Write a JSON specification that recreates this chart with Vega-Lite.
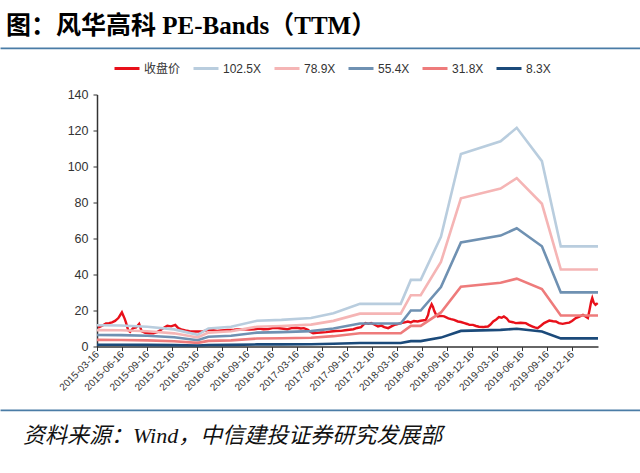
{
  "$schema": "https://vega.github.io/schema/vega-lite/v6.json",
  "padding": {"left": 0, "right": 0, "top": 13, "bottom": 0},
  "background": "white",
  "spacing": 4.5,
  "resolve": {"scale": {"color": "independent"}, "legend": {"color": "independent"}},
  "config": {
    "view": {"stroke": null},
    "font": "Liberation Sans, Noto Sans CJK SC"
  },
  "datasets": {
    "price": [
      {"date": "2015-03-20", "value": 10.5}, {"date": "2015-04-04", "value": 11.5}, {"date": "2015-04-18", "value": 12.8},
      {"date": "2015-04-29", "value": 13.0}, {"date": "2015-05-10", "value": 13.4}, {"date": "2015-05-21", "value": 14.2},
      {"date": "2015-06-02", "value": 15.8}, {"date": "2015-06-09", "value": 17.5}, {"date": "2015-06-15", "value": 19.0},
      {"date": "2015-06-20", "value": 17.2}, {"date": "2015-06-25", "value": 15.5}, {"date": "2015-06-30", "value": 13.3},
      {"date": "2015-07-08", "value": 9.0}, {"date": "2015-07-15", "value": 8.2}, {"date": "2015-07-26", "value": 10.2},
      {"date": "2015-08-06", "value": 10.6}, {"date": "2015-08-17", "value": 12.6}, {"date": "2015-08-26", "value": 8.5},
      {"date": "2015-09-08", "value": 7.6}, {"date": "2015-09-23", "value": 7.4}, {"date": "2015-10-08", "value": 7.4},
      {"date": "2015-10-22", "value": 8.0}, {"date": "2015-11-05", "value": 9.3}, {"date": "2015-11-17", "value": 10.5},
      {"date": "2015-11-28", "value": 11.5}, {"date": "2015-12-12", "value": 11.2}, {"date": "2015-12-27", "value": 12.0},
      {"date": "2016-01-07", "value": 10.2}, {"date": "2016-01-18", "value": 9.5}, {"date": "2016-02-02", "value": 8.9},
      {"date": "2016-02-17", "value": 8.5}, {"date": "2016-03-10", "value": 8.3}, {"date": "2016-03-31", "value": 8.3},
      {"date": "2016-04-15", "value": 8.8}, {"date": "2016-04-26", "value": 9.3}, {"date": "2016-05-14", "value": 9.0},
      {"date": "2016-05-28", "value": 8.7}, {"date": "2016-06-12", "value": 8.9}, {"date": "2016-07-04", "value": 9.2},
      {"date": "2016-07-29", "value": 9.3}, {"date": "2016-08-17", "value": 9.6}, {"date": "2016-09-04", "value": 9.6},
      {"date": "2016-09-23", "value": 9.4}, {"date": "2016-10-11", "value": 9.6}, {"date": "2016-10-29", "value": 10.0},
      {"date": "2016-11-13", "value": 9.6}, {"date": "2016-12-02", "value": 9.7}, {"date": "2016-12-16", "value": 10.2},
      {"date": "2016-12-30", "value": 10.4}, {"date": "2017-01-18", "value": 10.0}, {"date": "2017-02-09", "value": 9.6},
      {"date": "2017-02-24", "value": 10.2}, {"date": "2017-03-14", "value": 10.4}, {"date": "2017-03-30", "value": 10.0},
      {"date": "2017-04-10", "value": 10.2}, {"date": "2017-04-25", "value": 9.3}, {"date": "2017-05-03", "value": 8.2},
      {"date": "2017-05-14", "value": 7.4}, {"date": "2017-05-28", "value": 7.6}, {"date": "2017-06-11", "value": 7.8},
      {"date": "2017-06-30", "value": 8.0}, {"date": "2017-07-18", "value": 8.3}, {"date": "2017-08-05", "value": 8.6},
      {"date": "2017-08-24", "value": 8.7}, {"date": "2017-09-08", "value": 9.0}, {"date": "2017-09-23", "value": 9.3},
      {"date": "2017-10-08", "value": 9.6}, {"date": "2017-10-22", "value": 10.3}, {"date": "2017-11-05", "value": 10.8},
      {"date": "2017-11-13", "value": 12.0}, {"date": "2017-11-21", "value": 13.0}, {"date": "2017-12-02", "value": 12.6},
      {"date": "2017-12-12", "value": 13.0}, {"date": "2017-12-23", "value": 12.2}, {"date": "2018-01-06", "value": 11.1},
      {"date": "2018-01-18", "value": 11.6}, {"date": "2018-01-29", "value": 10.8}, {"date": "2018-02-12", "value": 10.2},
      {"date": "2018-02-24", "value": 11.2}, {"date": "2018-03-07", "value": 12.0}, {"date": "2018-03-16", "value": 12.3},
      {"date": "2018-03-30", "value": 13.0}, {"date": "2018-04-10", "value": 13.3}, {"date": "2018-04-25", "value": 13.9},
      {"date": "2018-05-06", "value": 13.4}, {"date": "2018-05-17", "value": 14.2}, {"date": "2018-05-31", "value": 13.9},
      {"date": "2018-06-11", "value": 14.3}, {"date": "2018-06-30", "value": 14.8}, {"date": "2018-07-08", "value": 17.5},
      {"date": "2018-07-12", "value": 20.4}, {"date": "2018-07-21", "value": 23.5}, {"date": "2018-07-26", "value": 22.0},
      {"date": "2018-07-30", "value": 20.0}, {"date": "2018-08-05", "value": 18.0}, {"date": "2018-08-12", "value": 16.7},
      {"date": "2018-08-24", "value": 17.0}, {"date": "2018-09-05", "value": 16.7}, {"date": "2018-09-20", "value": 15.6},
      {"date": "2018-09-30", "value": 15.2}, {"date": "2018-10-11", "value": 14.8}, {"date": "2018-10-25", "value": 13.9},
      {"date": "2018-11-05", "value": 13.6}, {"date": "2018-11-18", "value": 13.0}, {"date": "2018-11-28", "value": 12.5},
      {"date": "2018-12-06", "value": 12.0}, {"date": "2018-12-19", "value": 12.0}, {"date": "2018-12-30", "value": 11.4},
      {"date": "2019-01-10", "value": 11.0}, {"date": "2019-01-25", "value": 10.8}, {"date": "2019-02-02", "value": 11.0},
      {"date": "2019-02-12", "value": 11.1}, {"date": "2019-02-21", "value": 12.2}, {"date": "2019-03-03", "value": 13.9},
      {"date": "2019-03-14", "value": 15.0}, {"date": "2019-03-24", "value": 16.3}, {"date": "2019-04-03", "value": 16.0},
      {"date": "2019-04-11", "value": 16.7}, {"date": "2019-04-22", "value": 15.5}, {"date": "2019-04-30", "value": 13.9},
      {"date": "2019-05-14", "value": 13.5}, {"date": "2019-05-24", "value": 13.0}, {"date": "2019-06-11", "value": 13.2},
      {"date": "2019-06-30", "value": 13.0}, {"date": "2019-07-11", "value": 12.0}, {"date": "2019-07-25", "value": 11.1},
      {"date": "2019-08-02", "value": 10.6}, {"date": "2019-08-12", "value": 10.2}, {"date": "2019-08-24", "value": 11.5},
      {"date": "2019-09-05", "value": 13.0}, {"date": "2019-09-16", "value": 13.8}, {"date": "2019-09-24", "value": 14.4},
      {"date": "2019-10-08", "value": 14.0}, {"date": "2019-10-18", "value": 13.9}, {"date": "2019-10-29", "value": 13.0},
      {"date": "2019-11-12", "value": 12.6}, {"date": "2019-11-24", "value": 13.0}, {"date": "2019-12-06", "value": 13.3},
      {"date": "2019-12-16", "value": 14.2}, {"date": "2019-12-30", "value": 15.8}, {"date": "2020-01-10", "value": 16.5},
      {"date": "2020-01-25", "value": 17.6}, {"date": "2020-02-02", "value": 16.8}, {"date": "2020-02-12", "value": 15.8},
      {"date": "2020-02-19", "value": 21.0}, {"date": "2020-02-24", "value": 25.0}, {"date": "2020-02-28", "value": 26.9},
      {"date": "2020-03-04", "value": 24.5}, {"date": "2020-03-11", "value": 23.2}, {"date": "2020-03-19", "value": 24.1}
    ],
    "bands": [
      {"date": "2015-03-16", "series": "102.5X", "value": 11.8}, {"date": "2015-06-11", "series": "102.5X", "value": 11.7},
      {"date": "2015-09-16", "series": "102.5X", "value": 11.0}, {"date": "2015-12-23", "series": "102.5X", "value": 9.5},
      {"date": "2016-03-18", "series": "102.5X", "value": 6.5}, {"date": "2016-04-26", "series": "102.5X", "value": 10.0},
      {"date": "2016-07-18", "series": "102.5X", "value": 11.0}, {"date": "2016-10-21", "series": "102.5X", "value": 14.3},
      {"date": "2017-01-18", "series": "102.5X", "value": 14.8}, {"date": "2017-05-06", "series": "102.5X", "value": 15.8},
      {"date": "2017-07-27", "series": "102.5X", "value": 18.5}, {"date": "2017-11-01", "series": "102.5X", "value": 23.7},
      {"date": "2018-03-30", "series": "102.5X", "value": 23.7}, {"date": "2018-05-06", "series": "102.5X", "value": 37.0},
      {"date": "2018-06-11", "series": "102.5X", "value": 37.0}, {"date": "2018-08-24", "series": "102.5X", "value": 61.0},
      {"date": "2018-11-05", "series": "102.5X", "value": 107.0}, {"date": "2019-03-30", "series": "102.5X", "value": 114.0},
      {"date": "2019-05-28", "series": "102.5X", "value": 121.5}, {"date": "2019-08-28", "series": "102.5X", "value": 103.0},
      {"date": "2019-11-05", "series": "102.5X", "value": 55.6}, {"date": "2020-03-20", "series": "102.5X", "value": 55.6},

      {"date": "2015-03-16", "series": "78.9X", "value": 9.08}, {"date": "2015-06-11", "series": "78.9X", "value": 9.01},
      {"date": "2015-09-16", "series": "78.9X", "value": 8.47}, {"date": "2015-12-23", "series": "78.9X", "value": 7.31},
      {"date": "2016-03-18", "series": "78.9X", "value": 5.00}, {"date": "2016-04-26", "series": "78.9X", "value": 7.70},
      {"date": "2016-07-18", "series": "78.9X", "value": 8.47}, {"date": "2016-10-21", "series": "78.9X", "value": 11.01},
      {"date": "2017-01-18", "series": "78.9X", "value": 11.39}, {"date": "2017-05-06", "series": "78.9X", "value": 12.16},
      {"date": "2017-07-27", "series": "78.9X", "value": 14.24}, {"date": "2017-11-01", "series": "78.9X", "value": 18.24},
      {"date": "2018-03-30", "series": "78.9X", "value": 18.24}, {"date": "2018-05-06", "series": "78.9X", "value": 28.48},
      {"date": "2018-06-11", "series": "78.9X", "value": 28.48}, {"date": "2018-08-24", "series": "78.9X", "value": 46.96},
      {"date": "2018-11-05", "series": "78.9X", "value": 82.36}, {"date": "2019-03-30", "series": "78.9X", "value": 87.75},
      {"date": "2019-05-28", "series": "78.9X", "value": 93.53}, {"date": "2019-08-28", "series": "78.9X", "value": 79.29},
      {"date": "2019-11-05", "series": "78.9X", "value": 42.80}, {"date": "2020-03-20", "series": "78.9X", "value": 42.80},

      {"date": "2015-03-16", "series": "55.4X", "value": 6.38}, {"date": "2015-06-11", "series": "55.4X", "value": 6.32},
      {"date": "2015-09-16", "series": "55.4X", "value": 5.95}, {"date": "2015-12-23", "series": "55.4X", "value": 5.13},
      {"date": "2016-03-18", "series": "55.4X", "value": 3.51}, {"date": "2016-04-26", "series": "55.4X", "value": 5.40},
      {"date": "2016-07-18", "series": "55.4X", "value": 5.95}, {"date": "2016-10-21", "series": "55.4X", "value": 7.73},
      {"date": "2017-01-18", "series": "55.4X", "value": 8.00}, {"date": "2017-05-06", "series": "55.4X", "value": 8.54},
      {"date": "2017-07-27", "series": "55.4X", "value": 10.00}, {"date": "2017-11-01", "series": "55.4X", "value": 12.81},
      {"date": "2018-03-30", "series": "55.4X", "value": 12.81}, {"date": "2018-05-06", "series": "55.4X", "value": 20.00},
      {"date": "2018-06-11", "series": "55.4X", "value": 20.00}, {"date": "2018-08-24", "series": "55.4X", "value": 32.97},
      {"date": "2018-11-05", "series": "55.4X", "value": 57.83}, {"date": "2019-03-30", "series": "55.4X", "value": 61.62},
      {"date": "2019-05-28", "series": "55.4X", "value": 65.67}, {"date": "2019-08-28", "series": "55.4X", "value": 55.67},
      {"date": "2019-11-05", "series": "55.4X", "value": 30.05}, {"date": "2020-03-20", "series": "55.4X", "value": 30.05},

      {"date": "2015-03-16", "series": "31.8X", "value": 3.66}, {"date": "2015-06-11", "series": "31.8X", "value": 3.63},
      {"date": "2015-09-16", "series": "31.8X", "value": 3.41}, {"date": "2015-12-23", "series": "31.8X", "value": 2.95},
      {"date": "2016-03-18", "series": "31.8X", "value": 2.02}, {"date": "2016-04-26", "series": "31.8X", "value": 3.10},
      {"date": "2016-07-18", "series": "31.8X", "value": 3.41}, {"date": "2016-10-21", "series": "31.8X", "value": 4.44},
      {"date": "2017-01-18", "series": "31.8X", "value": 4.59}, {"date": "2017-05-06", "series": "31.8X", "value": 4.90},
      {"date": "2017-07-27", "series": "31.8X", "value": 5.74}, {"date": "2017-11-01", "series": "31.8X", "value": 7.35},
      {"date": "2018-03-30", "series": "31.8X", "value": 7.35}, {"date": "2018-05-06", "series": "31.8X", "value": 11.48},
      {"date": "2018-06-11", "series": "31.8X", "value": 11.48}, {"date": "2018-08-24", "series": "31.8X", "value": 18.92},
      {"date": "2018-11-05", "series": "31.8X", "value": 33.20}, {"date": "2019-03-30", "series": "31.8X", "value": 35.37},
      {"date": "2019-05-28", "series": "31.8X", "value": 37.69}, {"date": "2019-08-28", "series": "31.8X", "value": 31.95},
      {"date": "2019-11-05", "series": "31.8X", "value": 17.25}, {"date": "2020-03-20", "series": "31.8X", "value": 17.25},

      {"date": "2015-03-16", "series": "8.3X", "value": 0.96}, {"date": "2015-06-11", "series": "8.3X", "value": 0.95},
      {"date": "2015-09-16", "series": "8.3X", "value": 0.89}, {"date": "2015-12-23", "series": "8.3X", "value": 0.77},
      {"date": "2016-03-18", "series": "8.3X", "value": 0.53}, {"date": "2016-04-26", "series": "8.3X", "value": 0.81},
      {"date": "2016-07-18", "series": "8.3X", "value": 0.89}, {"date": "2016-10-21", "series": "8.3X", "value": 1.16},
      {"date": "2017-01-18", "series": "8.3X", "value": 1.20}, {"date": "2017-05-06", "series": "8.3X", "value": 1.28},
      {"date": "2017-07-27", "series": "8.3X", "value": 1.50}, {"date": "2017-11-01", "series": "8.3X", "value": 1.92},
      {"date": "2018-03-30", "series": "8.3X", "value": 1.92}, {"date": "2018-05-06", "series": "8.3X", "value": 3.00},
      {"date": "2018-06-11", "series": "8.3X", "value": 3.00}, {"date": "2018-08-24", "series": "8.3X", "value": 4.94},
      {"date": "2018-11-05", "series": "8.3X", "value": 8.66}, {"date": "2019-03-30", "series": "8.3X", "value": 9.23},
      {"date": "2019-05-28", "series": "8.3X", "value": 9.84}, {"date": "2019-08-28", "series": "8.3X", "value": 8.34},
      {"date": "2019-11-05", "series": "8.3X", "value": 4.50}, {"date": "2020-03-20", "series": "8.3X", "value": 4.50}
    ]
  },
  "vconcat": [
    {
      "width": 640,
      "height": 0.5,
      "title": {
        "text": "图：风华高科 PE-Bands（TTM）",
        "anchor": "start",
        "font": "Liberation Serif, Noto Sans CJK SC",
        "fontSize": 25,
        "fontWeight": "bold",
        "color": "#000000",
        "dx": 5,
        "offset": 9
      },
      "view": {"stroke": "#4A7CA6", "strokeWidth": 1.3},
      "data": {"values": []},
      "mark": "point"
    },
    {
      "width": 597,
      "height": 252,
      "encoding": {
        "x": {
          "field": "date",
          "type": "temporal",
          "scale": {
            "domain": [{"year": 2015, "month": 3, "date": 16}, {"year": 2020, "month": 3, "date": 20}],
            "range": [96, 597]
          },
          "axis": {
            "title": null,
            "values": [
              {"year": 2015, "month": 3, "date": 16}, {"year": 2015, "month": 6, "date": 16},
              {"year": 2015, "month": 9, "date": 16}, {"year": 2015, "month": 12, "date": 16},
              {"year": 2016, "month": 3, "date": 16}, {"year": 2016, "month": 6, "date": 16},
              {"year": 2016, "month": 9, "date": 16}, {"year": 2016, "month": 12, "date": 16},
              {"year": 2017, "month": 3, "date": 16}, {"year": 2017, "month": 6, "date": 16},
              {"year": 2017, "month": 9, "date": 16}, {"year": 2017, "month": 12, "date": 16},
              {"year": 2018, "month": 3, "date": 16}, {"year": 2018, "month": 6, "date": 16},
              {"year": 2018, "month": 9, "date": 16}, {"year": 2018, "month": 12, "date": 16},
              {"year": 2019, "month": 3, "date": 16}, {"year": 2019, "month": 6, "date": 16},
              {"year": 2019, "month": 9, "date": 16}, {"year": 2019, "month": 12, "date": 16}
            ],
            "format": "%Y-%m-%d",
            "labelAngle": -45,
            "labelAlign": "right",
            "labelBaseline": "middle",
            "labelFontSize": 10,
            "labelColor": "#333333",
            "labelOverlap": false,
            "labelFlush": false,
            "labelPadding": 2,
            "minExtent": 58,
            "tickSize": 4,
            "tickColor": "#333333",
            "domainColor": "#333333",
            "domainWidth": 1.5,
            "grid": false
          }
        },
        "y": {
          "field": "value",
          "type": "quantitative",
          "scale": {"domain": [0, 140], "nice": false},
          "axis": {
            "title": null,
            "values": [0, 20, 40, 60, 80, 100, 120, 140],
            "offset": -96,
            "grid": false,
            "labelOverlap": false,
            "labelFlush": false,
            "labelPadding": 5,
            "labelFontSize": 12.5,
            "labelColor": "#333333",
            "tickSize": 4,
            "tickColor": "#333333",
            "domainColor": "#333333",
            "domainWidth": 1.5
          }
        },
        "color": {
          "field": "series",
          "type": "nominal",
          "scale": {
            "domain": ["收盘价", "102.5X", "78.9X", "55.4X", "31.8X", "8.3X"],
            "range": ["#E8101A", "#B9CDDE", "#F5B5B5", "#6F91B2", "#EE7B7B", "#1B4A7A"]
          },
          "legend": {
            "title": null,
            "orient": "none",
            "legendX": 112,
            "legendY": -40,
            "direction": "horizontal",
            "columns": 6,
            "symbolType": "stroke",
            "symbolSize": 625,
            "symbolStrokeWidth": 3,
            "labelFontSize": 12,
            "labelColor": "#333333",
            "labelOffset": 3,
            "columnPadding": 6
          }
        }
      },
      "layer": [
        {
          "data": {"name": "price", "format": {"parse": {"date": "date:'%Y-%m-%d'"}}},
          "transform": [{"calculate": "'收盘价'", "as": "series"}],
          "mark": {"type": "line", "strokeWidth": 2.4}
        },
        {
          "data": {"name": "bands", "format": {"parse": {"date": "date:'%Y-%m-%d'"}}},
          "mark": {"type": "line", "strokeWidth": 2.6}
        }
      ]
    },
    {
      "width": 640,
      "height": 0.5,
      "title": {
        "text": "资料来源：Wind，中信建投证券研究发展部",
        "orient": "bottom",
        "anchor": "start",
        "font": "Liberation Serif, Noto Sans CJK SC",
        "fontSize": 22,
        "fontWeight": "normal",
        "fontStyle": "italic",
        "color": "#111111",
        "dx": 22,
        "offset": 15
      },
      "view": {"stroke": "#4A7CA6", "strokeWidth": 1.3},
      "data": {"values": []},
      "mark": "point"
    }
  ]
}
